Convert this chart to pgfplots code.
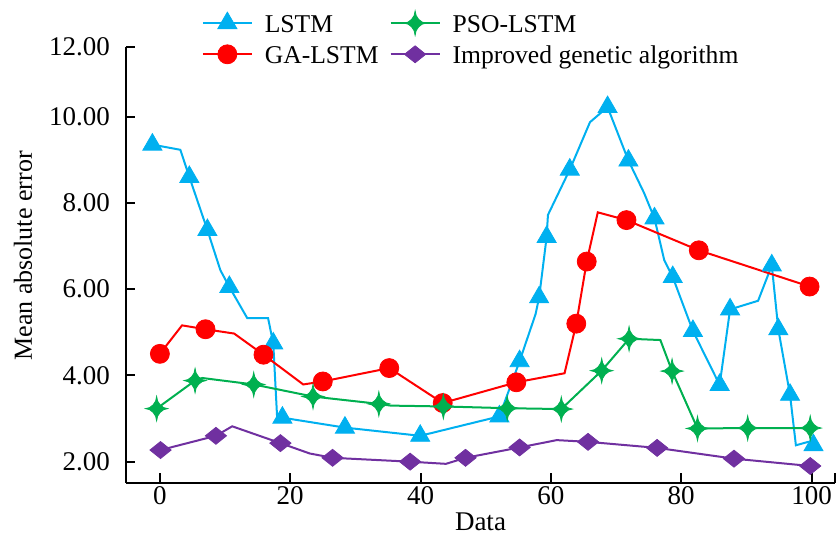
\documentclass[border=0pt]{standalone}
\usepackage{fontspec}
\setmainfont{Liberation Serif}
\usepackage{pgfplots}
\pgfplotsset{compat=1.18}
\definecolor{cLSTM}{RGB}{0,176,240}
\definecolor{cGA}{RGB}{255,0,0}
\definecolor{cPSO}{RGB}{0,176,80}
\definecolor{cIGA}{RGB}{112,48,160}
\pgfdeclareplotmark{sparkle}{%
  \pgfpathmoveto{\pgfqpoint{0pt}{1.05\pgfplotmarksize}}%
  \pgfpathcurveto{\pgfqpoint{0pt}{0.5\pgfplotmarksize}}{\pgfqpoint{0.5\pgfplotmarksize}{0pt}}{\pgfqpoint{0.95\pgfplotmarksize}{0pt}}%
  \pgfpathcurveto{\pgfqpoint{0.5\pgfplotmarksize}{0pt}}{\pgfqpoint{0pt}{-0.5\pgfplotmarksize}}{\pgfqpoint{0pt}{-1.05\pgfplotmarksize}}%
  \pgfpathcurveto{\pgfqpoint{0pt}{-0.5\pgfplotmarksize}}{\pgfqpoint{-0.5\pgfplotmarksize}{0pt}}{\pgfqpoint{-0.95\pgfplotmarksize}{0pt}}%
  \pgfpathcurveto{\pgfqpoint{-0.5\pgfplotmarksize}{0pt}}{\pgfqpoint{0pt}{0.5\pgfplotmarksize}}{\pgfqpoint{0pt}{1.05\pgfplotmarksize}}%
  \pgfpathclose
  \pgfusepathqfillstroke}
\pgfdeclareplotmark{wdiamond}{%
  \pgfpathmoveto{\pgfqpoint{\pgfplotmarksize}{0pt}}%
  \pgfpathlineto{\pgfqpoint{0pt}{0.8\pgfplotmarksize}}%
  \pgfpathlineto{\pgfqpoint{-\pgfplotmarksize}{0pt}}%
  \pgfpathlineto{\pgfqpoint{0pt}{-0.8\pgfplotmarksize}}%
  \pgfpathclose
  \pgfusepathqfillstroke}
\pgfplotsset{
  sLSTM/.style={color=cLSTM, line width=1pt, mark=triangle*, mark size=5.5pt, mark options={solid, fill=cLSTM, draw=cLSTM, line width=0.4pt}},
  sGA/.style={color=cGA, line width=1pt, mark=*, mark size=4.75pt, mark options={solid, fill=cGA, draw=cGA, line width=0.4pt}},
  sPSO/.style={color=cPSO, line width=1pt, mark=sparkle, mark size=5.8pt, mark options={solid, fill=cPSO, draw=cPSO, line width=0.4pt}},
  sIGA/.style={color=cIGA, line width=1pt, mark=wdiamond, mark size=5.3pt, mark options={solid, fill=cIGA, draw=cIGA, line width=0.4pt}},
}
\begin{document}
\begin{tikzpicture}
\useasboundingbox (-63pt,-26.15pt) rectangle (355.5pt,241.35pt);
\begin{axis}[
  at={(0pt,0pt)}, anchor=south west,
  scale only axis, width=354.5pt, height=218pt,
  xmin=-5.2, xmax=103.6, ymin=1.513, ymax=11.62,
  axis x line*=bottom, axis y line*=left,
  axis line style={line width=1pt, -},
  tick align=inside, major tick length=4.7pt,
  tick style={line width=1pt, black},
  xtick={0,20,40,60,80,100},
  extra x ticks={103.6}, extra x tick labels={},
  ytick={2,4,6,8,10,11.62},
  yticklabels={2.00,4.00,6.00,8.00,10.00,12.00},
  minor tick num=0,
  /pgf/number format/assume math mode=true,
  ticklabel style={font=\fontsize{13.5}{16}\selectfont},
  xticklabel style={yshift=1.8pt},
  yticklabel style={xshift=-4.5pt},
  xlabel={Data}, ylabel={Mean absolute error},
  every axis x label/.style={at={(axis description cs:0.5,-0.09)}, anchor=center, font=\fontsize{13.5}{16}\selectfont},
  every axis y label/.style={at={(axis description cs:-0.1453,0.52)}, anchor=center, rotate=90, font=\fontsize{13}{15}\selectfont},
  clip=false,
  legend columns=2,
  legend cell align=left,
  legend style={draw=none, fill=none, at={(axis description cs:0.107,1.082)}, anchor=north west,
    inner sep=0pt, outer sep=0pt, row sep=3.5pt,
    font=\fontsize{12.8}{15}\selectfont,
    nodes={inner sep=0pt, text height=10.5pt, text depth=1.5pt},
    /tikz/every odd column/.style={column sep=6pt},
    /tikz/every even column/.style={column sep=5.5pt}},
  legend image code/.code={\draw[#1, mark repeat=2, mark phase=2] plot coordinates {(0pt,0pt) (12.25pt,0pt) (24.5pt,0pt)};},
]
\addlegendimage{sLSTM}\addlegendentry{LSTM}
\addlegendimage{sPSO}\addlegendentry{PSO-LSTM}
\addlegendimage{sGA}\addlegendentry{GA-LSTM}
\addlegendimage{sIGA}\addlegendentry{Improved genetic algorithm}

\addplot[sLSTM, forget plot, mark indices={1,3,4,6,9,11,12,13,14,15,17,18,20,22,23,25,27,28,29,30,32,33,34,37}] coordinates {
(-1.15,9.35) (3.14,9.23) (4.52,8.60) (7.29,7.37) (9.28,6.44) (10.66,6.05) (13.4,5.33) (16.6,5.33)
(17.4,4.74) (18.0,3.00) (18.8,3.02) (28.4,2.79) (39.95,2.60) (52.1,3.05) (55.2,4.33) (57.65,5.42)
(58.2,5.81) (59.35,7.21) (59.55,7.72) (62.9,8.77) (66.0,9.87) (68.7,10.22) (71.9,8.98) (74.3,8.23)
(75.9,7.64) (77.4,6.67) (78.7,6.28) (81.8,5.03) (85.9,3.78) (87.5,5.53) (91.8,5.73) (93.9,6.55)
(94.9,5.07) (96.7,3.55) (97.6,2.38) (99.5,2.46) (100.3,2.38)
};
\addplot[sGA, forget plot, mark indices={1,3,5,7,8,9,10,12,13,15,16,17}] coordinates {
(0,4.50) (3.4,5.16) (7.0,5.07) (11.4,4.97) (15.9,4.48) (22.0,3.79) (25.0,3.86) (35.2,4.17)
(43.4,3.36) (54.7,3.84) (62.1,4.05) (63.9,5.20) (65.5,6.64) (67.2,7.78) (71.6,7.60) (82.7,6.90) (99.7,6.06)
};
\addplot[sPSO, forget plot, mark indices={1,2,4,5,6,8,9,10,11,12,14,15,16,17}] coordinates {
(-0.5,3.23) (5.4,3.88) (6.5,3.94) (14.4,3.79) (23.5,3.51) (33.6,3.34) (35.4,3.30) (43.5,3.28)
(53.3,3.24) (61.6,3.22) (67.8,4.11) (72.0,4.85) (76.8,4.82) (78.6,4.10) (82.5,2.77) (90.2,2.78) (99.8,2.78)
};
\addplot[sIGA, forget plot, mark indices={1,2,4,6,7,9,10,12,13,14,15}] coordinates {
(0.1,2.27) (8.6,2.60) (11.1,2.82) (18.5,2.43) (23.0,2.19) (26.5,2.09) (38.4,2.00) (43.9,1.95)
(46.9,2.09) (55.2,2.33) (60.9,2.50) (65.7,2.46) (76.3,2.32) (88.1,2.07) (99.8,1.90)
};
\end{axis}
\end{tikzpicture}
\end{document}
